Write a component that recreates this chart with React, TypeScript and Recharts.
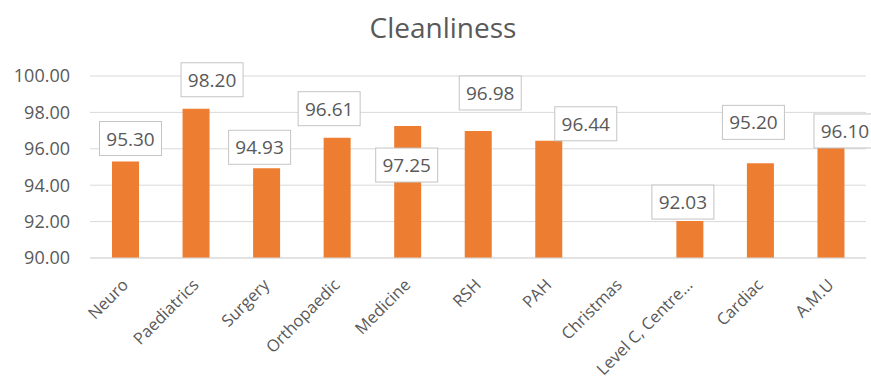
import { BarChart, Bar, XAxis, YAxis, CartesianGrid, LabelList } from 'recharts'

const categories = [
  'Neuro',
  'Paediatrics',
  'Surgery',
  'Orthopaedic',
  'Medicine',
  'RSH',
  'PAH',
  'Christmas',
  'Level C, Centre...',
  'Cardiac',
  'A.M.U',
]

const scores = [95.3, 98.2, 94.93, 96.61, 97.25, 96.98, 96.44, null, 92.03, 95.2, 96.1]

const yTicks = [90, 92, 94, 96, 98, 100]

// label box centre, relative to the top centre of its bar (one per category)
const labelNudge = [
  [5, -23],
  [16, -29],
  [-7, -21],
  [-8, -29],
  [-1, 39],
  [12, -38],
  [37, -17],
  [0, 0],
  [-7, -19],
  [-7, -41],
  [14, -16],
]

const GREY = '#595959'
const FONT = '"Open Sans", sans-serif'

const data = categories.map((name, i) => ({ name, score: scores[i] }))

// LabelList hands over the category name; the score is looked up from it
function ValueBox(props: any) {
  const { x, y, width, value } = props
  const i = categories.indexOf(value)
  const score = scores[i]
  if (i < 0 || score == null) return null
  const [dx, dy] = labelNudge[i]
  const cx = Number(x) + Number(width) / 2 + dx
  const cy = Number(y) + dy
  return (
    <g>
      <rect x={cx - 31} y={cy - 17} width={62} height={34} fill="#fff" stroke="#c4c4c4" strokeWidth={1} />
      <text
        x={cx}
        y={cy}
        textAnchor="middle"
        dominantBaseline="central"
        fontSize={19}
        fontFamily={FONT}
        fill={GREY}
      >
        {score.toFixed(2)}
      </text>
    </g>
  )
}

function CategoryTick(props: any) {
  const { x, y, payload } = props
  const tx = x + 4
  const ty = y + 28
  return (
    <text
      x={tx}
      y={ty}
      textAnchor="end"
      transform={`rotate(-45, ${tx}, ${ty})`}
      fontSize={16.5}
      fontFamily={FONT}
      fill={GREY}
    >
      {payload.value}
    </text>
  )
}

export default function App() {
  return (
    <div style={{ position: 'absolute', top: 0, left: 0, width: 871, height: 381, background: '#fff' }}>
      <div
        style={{
          position: 'absolute',
          top: 13,
          left: 243,
          width: 400,
          textAlign: 'center',
          fontFamily: FONT,
          fontSize: 28,
          lineHeight: '28px',
          color: GREY,
        }}
      >
        Cleanliness
      </div>
      <BarChart
        width={871}
        height={381}
        data={data}
        margin={{ top: 76, right: 5, bottom: 0, left: 0 }}
      >
        <CartesianGrid horizontal vertical={false} stroke="#d9d9d9" />
        <XAxis
          dataKey="name"
          interval={0}
          height={123}
          tickLine={false}
          tickSize={0}
          tickMargin={0}
          axisLine={{ stroke: '#d9d9d9' }}
          tick={<CategoryTick />}
        />
        <YAxis
          width={90}
          domain={[90, 100]}
          ticks={yTicks}
          allowDataOverflow
          axisLine={false}
          tickLine={false}
          tickSize={0}
          tickMargin={20}
          tickFormatter={(v: number) => v.toFixed(2)}
          tick={{ fontSize: 18, fontFamily: FONT, fill: GREY }}
        />
        <Bar dataKey="score" fill="#ED7D31" barSize={27} isAnimationActive={false}>
          <LabelList dataKey="name" content={<ValueBox />} />
        </Bar>
      </BarChart>
    </div>
  )
}
